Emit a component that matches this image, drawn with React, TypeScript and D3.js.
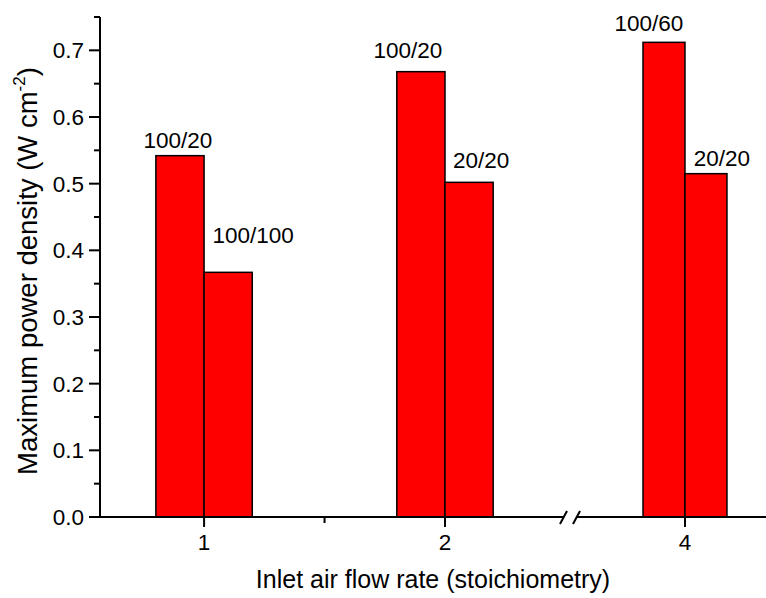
import React from "react";
import * as d3 from "d3";

// data
const categories = ["1", "2", "4"];
const categoryPositions = [1, 2, 4];
const leftValues = [0.542, 0.668, 0.712];
const rightValues = [0.367, 0.502, 0.515];
const leftLabels = ["100/20", "100/20", "100/60"];
const rightLabels = ["100/100", "20/20", "20/20"];
const yTicks = [0, 0.1, 0.2, 0.3, 0.4, 0.5, 0.6, 0.7];

const W = 766;
const H = 598;
const FONT = "Liberation Sans, Arial, sans-serif";
const BAR_W = 0.2;

// label nudges (px) relative to bar top center
const leftOffsets = [[-2, -8], [-13, -14], [-15, -11]];
const rightOffsets = [[25, -29], [12, -14], [16, -8]];

export default function App() {
    // broken x axis: two linear pieces joined at the break
    const breakX = 571;
    const x = d3.scaleLinear()
        .domain([0.568, 2.523, 3.457, 4.386])
        .range([100, breakX, breakX, W]);

    const y = d3.scaleLinear().domain([0, 0.75]).range([517, 17]);
    const y0 = y(0);

    const minorY = d3.range(0.05, 0.76, 0.1);

    return (
        <div style={{ position: "absolute", left: 0, top: 0 }}>
            <svg width={W} height={H} style={{ display: "block", background: "#fff" }}>
                {/* bars */}
                {categoryPositions.map((c, i) => (
                    <g key={i}>
                        <rect
                            x={x(c - BAR_W)}
                            y={y(leftValues[i])}
                            width={x(c) - x(c - BAR_W)}
                            height={y0 - y(leftValues[i])}
                            fill="#ff0000"
                            stroke="#000"
                            strokeWidth={1.5}
                        />
                        <rect
                            x={x(c)}
                            y={y(rightValues[i])}
                            width={x(c + BAR_W) - x(c)}
                            height={y0 - y(rightValues[i])}
                            fill="#ff0000"
                            stroke="#000"
                            strokeWidth={1.5}
                        />
                        <text
                            x={x(c - BAR_W / 2) + leftOffsets[i][0]}
                            y={y(leftValues[i]) + leftOffsets[i][1]}
                            textAnchor="middle"
                            fontFamily={FONT}
                            fontSize={22.5}
                        >{leftLabels[i]}</text>
                        <text
                            x={x(c + BAR_W / 2) + rightOffsets[i][0]}
                            y={y(rightValues[i]) + rightOffsets[i][1]}
                            textAnchor="middle"
                            fontFamily={FONT}
                            fontSize={22.5}
                        >{rightLabels[i]}</text>
                    </g>
                ))}

                {/* y axis */}
                <line x1={100} x2={100} y1={y(0.75)} y2={y0 + 1} stroke="#000" strokeWidth={2} />
                {yTicks.map((t, i) => (
                    <g key={i} transform={`translate(100, ${y(t)})`}>
                        <line x1={-11} x2={0} stroke="#000" strokeWidth={2} />
                        <text x={-16} dy="0.35em" textAnchor="end" fontFamily={FONT} fontSize={22.5}>
                            {d3.format(".1f")(t)}
                        </text>
                    </g>
                ))}
                {minorY.map((t, i) => (
                    <line key={i} x1={94} x2={100} y1={y(t)} y2={y(t)} stroke="#000" strokeWidth={2} />
                ))}

                {/* x axis with break */}
                <line x1={99} x2={breakX - 8} y1={y0} y2={y0} stroke="#000" strokeWidth={2} />
                <line x1={breakX + 6} x2={W} y1={y0} y2={y0} stroke="#000" strokeWidth={2} />
                <line x1={breakX - 11} x2={breakX - 4} y1={y0 + 7} y2={y0 - 6} stroke="#000" strokeWidth={2} />
                <line x1={breakX + 2} x2={breakX + 9} y1={y0 + 7} y2={y0 - 6} stroke="#000" strokeWidth={2} />
                {categoryPositions.map((c, i) => (
                    <g key={i} transform={`translate(${x(c)}, ${y0})`}>
                        <line y1={0} y2={10} stroke="#000" strokeWidth={2} />
                        <text y={33} textAnchor="middle" fontFamily={FONT} fontSize={22.5}>{categories[i]}</text>
                    </g>
                ))}
                <line x1={x(1.5)} x2={x(1.5)} y1={y0} y2={y0 + 6} stroke="#000" strokeWidth={2} />

                {/* axis titles */}
                <text x={433} y={588} textAnchor="middle" fontFamily={FONT} fontSize={25}>
                    Inlet air flow rate (stoichiometry)
                </text>
                <text
                    transform={`translate(37, ${(y(0.75) + y0) / 2 + 4}) rotate(-90)`}
                    textAnchor="middle"
                    fontFamily={FONT}
                    fontSize={27.5}
                >
                    Maximum power density (W cm<tspan dy={-12} fontSize={17}>-2</tspan><tspan dy={12}>)</tspan>
                </text>
            </svg>
        </div>
    );
}
